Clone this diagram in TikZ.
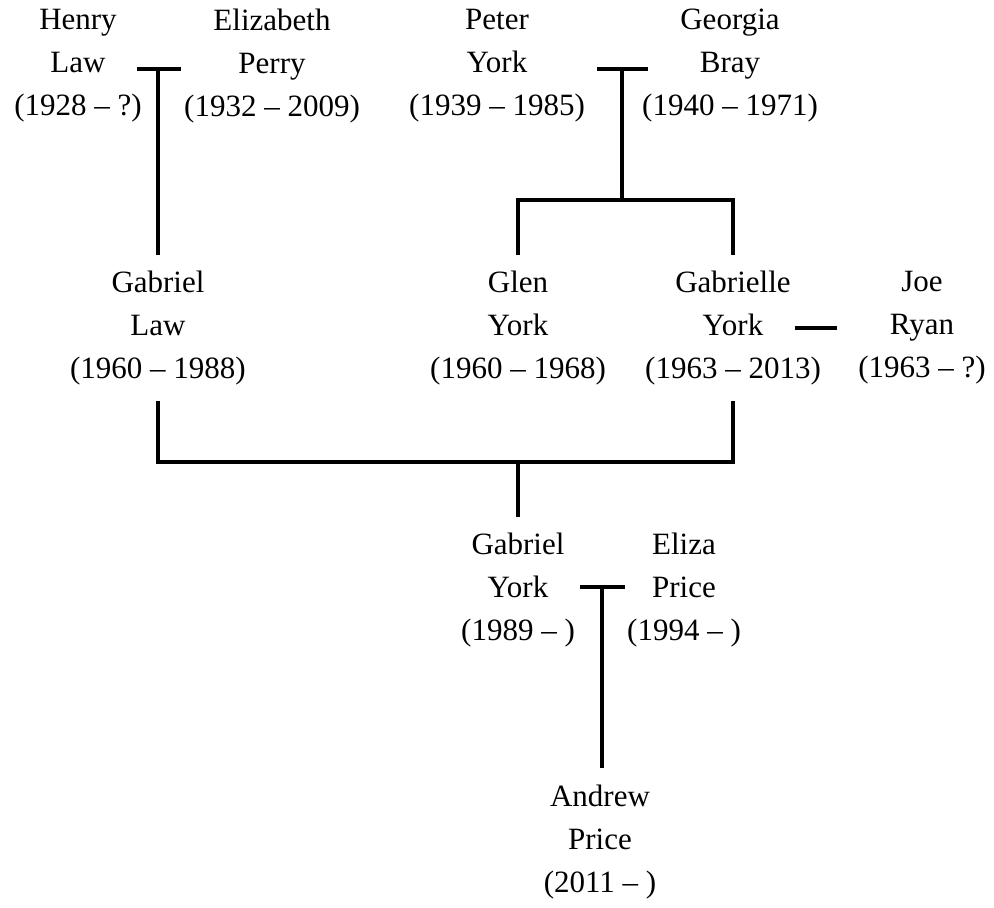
\documentclass[tikz,border=0pt]{standalone}
\usepackage{fontspec}
\setmainfont{Liberation Serif}
\begin{document}
\begin{tikzpicture}[x=1pt,y=-1pt,
  person/.style={align=center,inner sep=16pt,font=\fontsize{31}{43}\selectfont},
  link/.style={line width=3.4pt}]
\useasboundingbox (0,0) rectangle (994,908);
% generation 1
\node[person] (henry) at (78,66) {Henry\\Law\\(1928 – ?)};
\node[person] (elizabeth) at (272,66) {Elizabeth\\Perry\\(1932 – 2009)};
\node[person] (peter) at (497,66) {Peter\\York\\(1939 – 1985)};
\node[person] (georgia) at (730,66) {Georgia\\Bray\\(1940 – 1971)};
% generation 2
\node[person] (gabriel) at (158,328) {Gabriel\\Law\\(1960 – 1988)};
\node[person] (glen) at (518,328) {Glen\\York\\(1960 – 1968)};
\node[person] (gabrielle) at (733,328) {Gabrielle\\York\\(1963 – 2013)};
\node[person] (joe) at (922,328) {Joe\\Ryan\\(1963 – ?)};
% generation 3
\node[person] (gyork) at (518,590) {Gabriel\\York\\(1989 – )};
\node[person] (eliza) at (684,590) {Eliza\\Price\\(1994 – )};
% generation 4
\node[person] (andrew) at (600,842) {Andrew\\Price\\(2011 – )};
% junction coordinates
\coordinate (hlL) at (137,69);
\coordinate (hlR) at (181,69);
\coordinate (hlM) at (158,69);
\coordinate (pgL) at (597,69);
\coordinate (pgR) at (648,69);
\coordinate (pgM) at (622,69);
\coordinate (pgB) at (622,200);
\coordinate (sibL) at (518,200);
\coordinate (sibR) at (733,200);
\coordinate (grL) at (795,328);
\coordinate (grR) at (837,328);
\coordinate (mL) at (158,462);
\coordinate (mR) at (733,462);
\coordinate (mM) at (518,462);
\coordinate (yeL) at (580,587);
\coordinate (yeR) at (625,587);
\coordinate (yeM) at (602,587);
\coordinate (yeB) at (602,768);
% connectors
\draw[link] (hlL) -- (hlR);
\draw[link] (hlM) -- (gabriel.north);
\draw[link] (pgL) -- (pgR);
\draw[link] (pgM) -- (pgB);
\draw[link] (glen.north) -- (sibL) -- (sibR) -- (gabrielle.north);
\draw[link] (grL) -- (grR);
\draw[link] (gabriel.south) -- (mL) -- (mR) -- (gabrielle.south);
\draw[link] (mM) -- (gyork.north);
\draw[link] (yeL) -- (yeR);
\draw[link] (yeM) -- (yeB);
\end{tikzpicture}
\end{document}
